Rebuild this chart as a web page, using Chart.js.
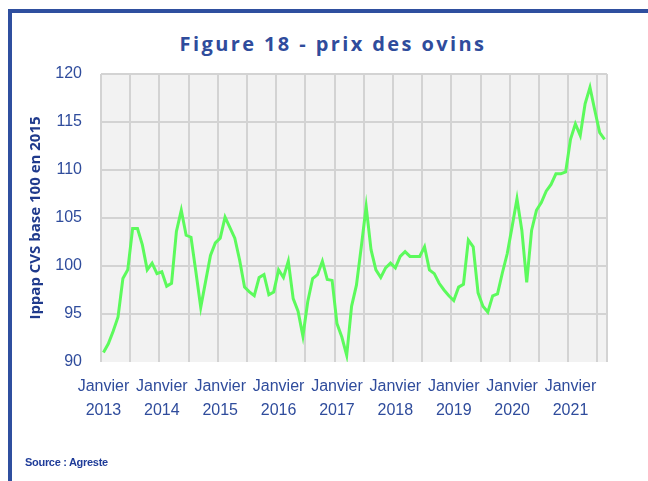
<!DOCTYPE html>
<html>
<head>
<meta charset="utf-8">
<title>Figure 18 - prix des ovins</title>
<script src="https://cdn.jsdelivr.net/npm/chart.js@4.4.0/dist/chart.umd.min.js"></script>
<style>
  html, body { margin: 0; padding: 0; background: #fff; }
  #wrap { position: relative; width: 648px; height: 481px; overflow: hidden; }
  #frame { position: absolute; left: 8px; top: 9px; width: 660px; height: 490px;
           border-top: 4px solid #2f4f9f; border-left: 4px solid #2f4f9f; }
  #title { position: absolute; left: 0; width: 666px; top: 30px; text-align: center;
           font: bold 20px "Open Sans", sans-serif; letter-spacing: 2.4px; color: #2f4c9c; }
  #source { position: absolute; left: 25px; top: 456px; letter-spacing: -0.3px;
            font: bold 11px "Liberation Sans Narrow", "Arial Narrow", sans-serif; color: #1f3c99; }
  canvas { position: absolute; left: 0; top: 0; }
</style>
</head>
<body>
<div id="wrap">
  <div id="frame"></div>
  <div id="title">Figure 18 - prix des ovins</div>
  <canvas id="chart" width="648" height="481"></canvas>
  <div id="source">Source : Agreste</div>
</div>
<script>
// mois et années de l'axe
const monthNames = ['Janvier', 'Février', 'Mars', 'Avril', 'Mai', 'Juin',
  'Juillet', 'Août', 'Septembre', 'Octobre', 'Novembre', 'Décembre'];
const years = ['2013', '2014', '2015', '2016', '2017', '2018', '2019', '2020', '2021'];

// Ippap CVS base 100 en 2015, mensuel de janvier 2013 à août 2021
const prices = [
  91.0, 91.9, 93.2, 94.7, 98.7, 99.6, 103.9, 103.9, 102.2, 99.6, 100.3, 99.2,
  99.4, 97.9, 98.2, 103.6, 105.8, 103.2, 103.0, 99.4, 95.7, 98.4, 101.1, 102.4,
  102.9, 105.1, 104.0, 102.9, 100.6, 97.8, 97.3, 96.9, 98.8, 99.1, 97.0, 97.3,
  99.6, 98.8, 100.5, 96.6, 95.3, 92.7, 96.3, 98.7, 99.1, 100.5, 98.6, 98.5,
  94.0, 92.6, 90.7, 95.8, 98.0, 102.0, 106.2, 101.7, 99.6, 98.8, 99.8, 100.3,
  99.8, 101.0, 101.5, 101.0, 101.0, 101.0, 102.0, 99.6, 99.2, 98.2, 97.5, 96.9,
  96.4, 97.8, 98.1, 102.7, 102.0, 97.2, 95.8, 95.2, 96.9, 97.1, 99.3, 101.3,
  104.1, 107.0, 103.7, 98.3, 103.7, 105.8, 106.6, 107.8, 108.5, 109.6, 109.6, 109.8,
  113.2, 114.8, 113.6, 116.9, 118.6, 116.2, 113.9, 113.2
];

const yTicks = [90, 95, 100, 105, 110, 115, 120];

// catégories "Mois Année"
const categories = [];
years.forEach(y => monthNames.forEach(m => categories.push(m + ' ' + y)));
categories.length = prices.length;

const blue = '#2f4c9c';
const gridGrey = '#d3d3d3';

// fond gris de la zone de tracé
const plotBg = {
  id: 'plotBg',
  beforeDraw(chart) {
    const { ctx, chartArea: a } = chart;
    ctx.save();
    ctx.fillStyle = '#f2f2f2';
    ctx.fillRect(a.left, a.top, a.right - a.left, a.bottom - a.top);
    ctx.restore();
  }
};

new Chart(document.getElementById('chart').getContext('2d'), {
  type: 'line',
  data: {
    labels: categories,
    datasets: [{
      label: 'prix des ovins',
      data: prices,
      borderColor: '#5cfa5c',
      borderWidth: 3,
      pointRadius: 0,
      tension: 0,
      fill: false
    }]
  },
  options: {
    responsive: false,
    animation: false,
    devicePixelRatio: 1,
    layout: { padding: { left: 23, right: 41, top: 74, bottom: 0 } },
    plugins: { legend: { display: false }, tooltip: { enabled: false } },
    scales: {
      x: {
        offset: true,
        afterFit: s => { s.height = 119; },
        border: { display: false },
        grid: {
          offset: true,
          drawTicks: false,
          lineWidth: 2,
          color: c => (c.index === undefined || c.index % 6 === 0) ? gridGrey : 'rgba(0,0,0,0)'
        },
        ticks: {
          autoSkip: false,
          maxRotation: 0,
          minRotation: 0,
          padding: 13,
          color: blue,
          font: { family: 'Liberation Sans', size: 16, lineHeight: 1.5 },
          callback: (v, i) => {
            const [m, y] = categories[i].split(' ');
            return m === 'Janvier' ? [m, y] : '';
          }
        }
      },
      y: {
        min: yTicks[0],
        max: yTicks[yTicks.length - 1],
        afterFit: s => { s.width = 78; },
        afterBuildTicks: s => { s.ticks = yTicks.map(v => ({ value: v })); },
        border: { display: false },
        grid: {
          drawTicks: false,
          lineWidth: 2,
          color: c => (c.tick && c.tick.value === yTicks[0]) ? 'rgba(0,0,0,0)' : gridGrey
        },
        ticks: {
          padding: 19,
          color: blue,
          font: { family: 'Liberation Sans', size: 16 }
        },
        title: {
          display: true,
          text: 'Ippap CVS base 100 en 2015',
          color: '#1f3a8c',
          font: { family: 'Open Sans', size: 15, weight: 'bold' }
        }
      }
    }
  },
  plugins: [plotBg]
});
</script>
</body>
</html>
